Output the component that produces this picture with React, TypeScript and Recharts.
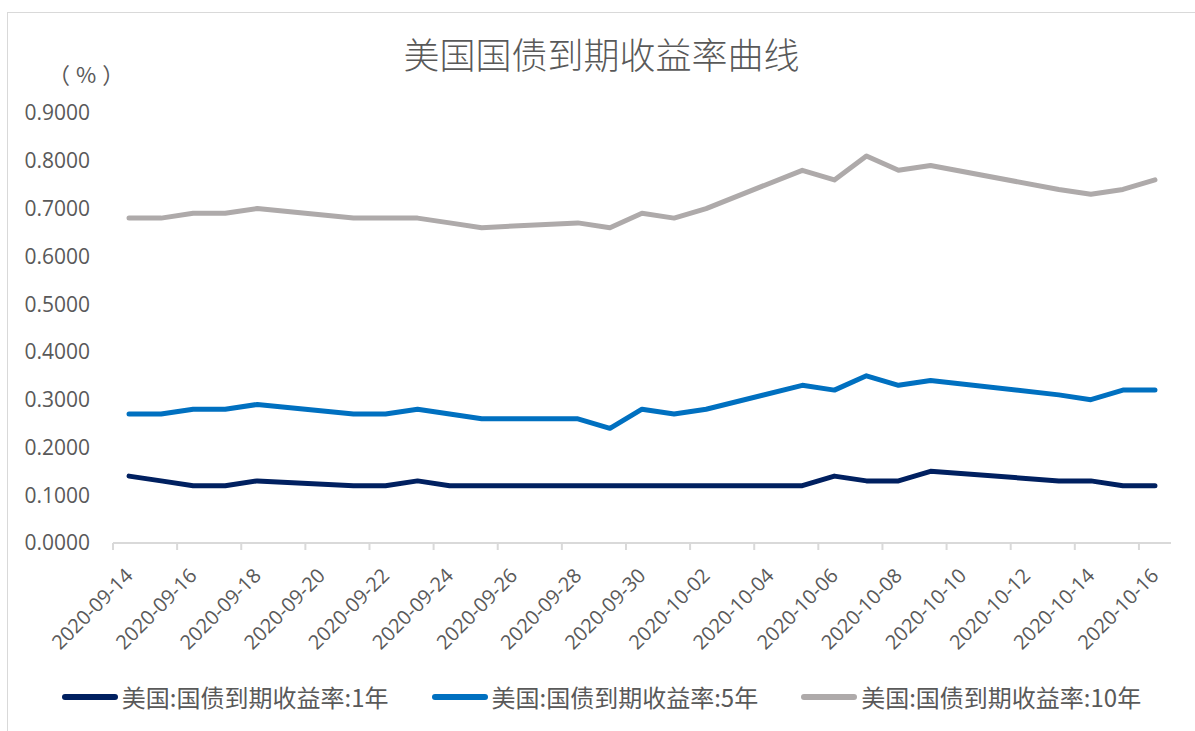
import React from "react"
import { LineChart, Line, XAxis, YAxis, Legend } from "recharts"

// trading days only - weekends and 10-12 (Columbus day) have no quote
const dates = [
  "2020-09-14", "2020-09-15", "2020-09-16", "2020-09-17", "2020-09-18",
  "2020-09-21", "2020-09-22", "2020-09-23", "2020-09-24", "2020-09-25",
  "2020-09-28", "2020-09-29", "2020-09-30", "2020-10-01", "2020-10-02",
  "2020-10-05", "2020-10-06", "2020-10-07", "2020-10-08", "2020-10-09",
  "2020-10-13", "2020-10-14", "2020-10-15", "2020-10-16",
]

const yield1y = [
  0.14, 0.13, 0.12, 0.12, 0.13,
  0.12, 0.12, 0.13, 0.12, 0.12,
  0.12, 0.12, 0.12, 0.12, 0.12,
  0.12, 0.14, 0.13, 0.13, 0.15,
  0.13, 0.13, 0.12, 0.12,
]

const yield5y = [
  0.27, 0.27, 0.28, 0.28, 0.29,
  0.27, 0.27, 0.28, 0.27, 0.26,
  0.26, 0.24, 0.28, 0.27, 0.28,
  0.33, 0.32, 0.35, 0.33, 0.34,
  0.31, 0.3, 0.32, 0.32,
]

const yield10y = [
  0.68, 0.68, 0.69, 0.69, 0.7,
  0.68, 0.68, 0.68, 0.67, 0.66,
  0.67, 0.66, 0.69, 0.68, 0.7,
  0.78, 0.76, 0.81, 0.78, 0.79,
  0.74, 0.73, 0.74, 0.76,
]

const tickDates = [
  "2020-09-14", "2020-09-16", "2020-09-18", "2020-09-20", "2020-09-22",
  "2020-09-24", "2020-09-26", "2020-09-28", "2020-09-30", "2020-10-02",
  "2020-10-04", "2020-10-06", "2020-10-08", "2020-10-10", "2020-10-12",
  "2020-10-14", "2020-10-16",
]

const yTicks = [0, 0.1, 0.2, 0.3, 0.4, 0.5, 0.6, 0.7, 0.8, 0.9]

const seriesKeys = ["y1", "y5", "y10"]
const seriesNames = ["美国:国债到期收益率:1年", "美国:国债到期收益率:5年", "美国:国债到期收益率:10年"]
const seriesColors = ["#002060", "#0070C0", "#AEAAAA"]

const FIRST_DAY = "2020-09-14"
const LAST_DAY = "2020-10-16"

function dayIndex(s: string) {
  const [y, m, d] = s.split("-").map(Number)
  const [y0, m0, d0] = FIRST_DAY.split("-").map(Number)
  return Math.round((Date.UTC(y, m - 1, d) - Date.UTC(y0, m0 - 1, d0)) / 86400000)
}

const data = dates.map((d, i) => ({
  day: dayIndex(d),
  y1: yield1y[i],
  y5: yield5y[i],
  y10: yield10y[i],
}))

const totalDays = dayIndex(LAST_DAY) + 1
// excel date axis: tick marks sit between day slots, labels on the slot centre
const xTicks = tickDates.map((d) => dayIndex(d) - 0.5)

const W = 1187
const H = 718
const Y_AXIS_W = 105
const RIGHT = 24
const halfSlot = (W - Y_AXIS_W - RIGHT) / totalDays / 2

const textColor = "#595959"
const latin = "'Open Sans', 'Noto Sans CJK SC', sans-serif"
const cjk = "'Noto Sans CJK SC', sans-serif"

function DateTick(props: any) {
  const { x, y, payload } = props
  const label = tickDates.find((d) => dayIndex(d) - 0.5 === payload.value)
  return (
    <g transform={`translate(${x + halfSlot},${y + 20})`}>
      <text textAnchor="end" transform="rotate(-45)" dy="0.35em" fill={textColor} fontSize={20} fontFamily={latin}>
        {label}
      </text>
    </g>
  )
}

// own legend so the order stays 1y, 5y, 10y
function LegendContent() {
  return (
    <div style={{ display: "flex", justifyContent: "center", alignItems: "center", gap: 43, height: 40 }}>
      {seriesNames.map((name, i) => (
        <div key={name} style={{ display: "flex", alignItems: "center" }}>
          <span style={{ width: 56, height: 6, borderRadius: 3, background: seriesColors[i], marginRight: 4 }} />
          <span style={{ fontFamily: cjk, fontSize: 24, color: textColor, lineHeight: "40px" }}>{name}</span>
        </div>
      ))}
    </div>
  )
}

export default function App() {
  return (
    <div
      style={{
        position: "absolute",
        left: 7,
        top: 12,
        width: W + 1,
        height: H + 1,
        boxSizing: "border-box",
        borderTop: "1px solid #d9d9d9",
        borderLeft: "1px solid #d9d9d9",
        background: "#fff",
      }}
    >
      <div
        style={{
          position: "absolute",
          top: 22,
          left: 0,
          width: "100%",
          textAlign: "center",
          fontFamily: cjk,
          fontSize: 36,
          fontWeight: 300,
          lineHeight: "36px",
          color: textColor,
        }}
      >
        美国国债到期收益率曲线
      </div>
      <div
        style={{
          position: "absolute",
          top: 49,
          left: 40,
          fontFamily: cjk,
          fontSize: 22,
          lineHeight: "22px",
          letterSpacing: 6,
          color: textColor,
        }}
      >
        （%）
      </div>
      <LineChart width={W} height={H} data={data} margin={{ top: 100, right: RIGHT, bottom: 14, left: 0 }}>
        <XAxis
          dataKey="day"
          type="number"
          domain={[-0.5, totalDays - 0.5]}
          ticks={xTicks}
          interval={0}
          height={134}
          tick={<DateTick />}
          tickSize={7}
          axisLine={{ stroke: "#d9d9d9", strokeWidth: 2 }}
          tickLine={{ stroke: "#d9d9d9", strokeWidth: 2 }}
        />
        <YAxis
          domain={[0, 0.9]}
          ticks={yTicks}
          width={Y_AXIS_W}
          axisLine={false}
          tickLine={false}
          tickSize={0}
          tickMargin={23}
          interval={0}
          tick={{ fill: textColor, fontSize: 21, fontFamily: latin }}
          tickFormatter={(v: number) => v.toFixed(4)}
        />
        <Legend verticalAlign="bottom" height={40} content={<LegendContent />} wrapperStyle={{ left: 0, width: W }} />
        {seriesKeys.map((key, i) => (
          <Line
            key={key}
            dataKey={key}
            name={seriesNames[i]}
            stroke={seriesColors[i]}
            strokeWidth={5}
            strokeLinecap="round"
            strokeLinejoin="round"
            dot={false}
            activeDot={false}
            isAnimationActive={false}
          />
        ))}
      </LineChart>
    </div>
  )
}
